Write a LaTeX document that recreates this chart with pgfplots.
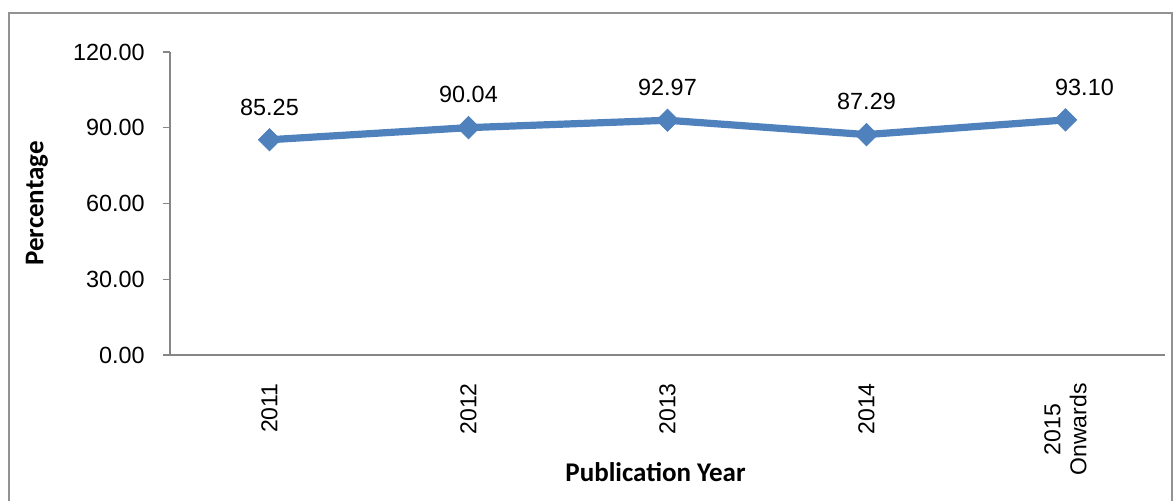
\documentclass[border=0pt]{standalone}
\usepackage{fontspec}
\setmainfont{Carlito}
\newfontfamily\arialf{Liberation Sans}
\usepackage{pgfplots}
\pgfplotsset{compat=1.18}
\definecolor{xlblue}{RGB}{79,129,189}
\definecolor{xlgray}{RGB}{134,134,134}

\begin{document}
\begin{tikzpicture}
\begin{axis}[
    scale only axis,
    width=497.5pt, height=151.5pt,
    xmin=-0.5, xmax=4.5,
    ymin=0, ymax=120,
    ytick={0,30,60,90,120},
    xtick={0,1,2,3,4},
    xticklabels={2011,2012,2013,2014,{2015\\Onwards}},
    axis x line*=bottom, axis y line*=left,
    axis line style={xlgray, line width=0.7pt},
    x axis line style={-}, y axis line style={-},
    major x tick style={draw=none},
    major y tick style={xlgray, line width=0.7pt},
    tick align=outside, major tick length=3.5pt,
    /pgf/number format/assume math mode=true,
    yticklabel style={font=\arialf\fontsize{11.7}{13.8}\selectfont, anchor=east, inner sep=0pt, xshift=-9pt,
        /pgf/number format/.cd, fixed, zerofill, precision=2},
    xticklabel style={font=\arialf\fontsize{11.5}{13}\selectfont, yshift=-10.5pt, rotate=90, anchor=east, inner sep=0pt, align=center},
    xlabel={Publication Year},
    ylabel={Percentage},
    every axis x label/.style={at={(axis description cs:0.5,0)}, yshift=-58.5pt, xshift=-6pt, anchor=center, font=\bfseries\fontsize{13.5}{16}\selectfont},
    every axis y label/.style={at={(axis description cs:0,0.5)}, xshift=-66.5pt, rotate=90, anchor=center, font=\bfseries\fontsize{13.5}{16}\selectfont},
    nodes near coords,
    every node near coord/.append style={text=black, font=\arialf\fontsize{11.7}{13}\selectfont, anchor=south, inner sep=0pt, yshift=12pt,
        xshift={ifthenelse(\coordindex==4,9.5,0)*1pt},
        /pgf/number format/.cd, fixed, zerofill, precision=2, assume math mode=true},
    clip=false,
]
\addplot[xlblue, line width=3.6pt, mark=square*, mark size=3.9pt,
    mark options={solid, line width=0.5pt, rotate=45, fill=xlblue}]
    coordinates {(0,85.25) (1,90.04) (2,92.97) (3,87.29) (4,93.10)};
\end{axis}
\draw[xlgray!90, line width=0.8pt] (-80.5pt,-90pt) rectangle (501pt,171pt);
\pgfresetboundingbox
\useasboundingbox (-85pt,-72.5pt) rectangle (501.5pt,177.5pt);
\end{tikzpicture}
\end{document}
